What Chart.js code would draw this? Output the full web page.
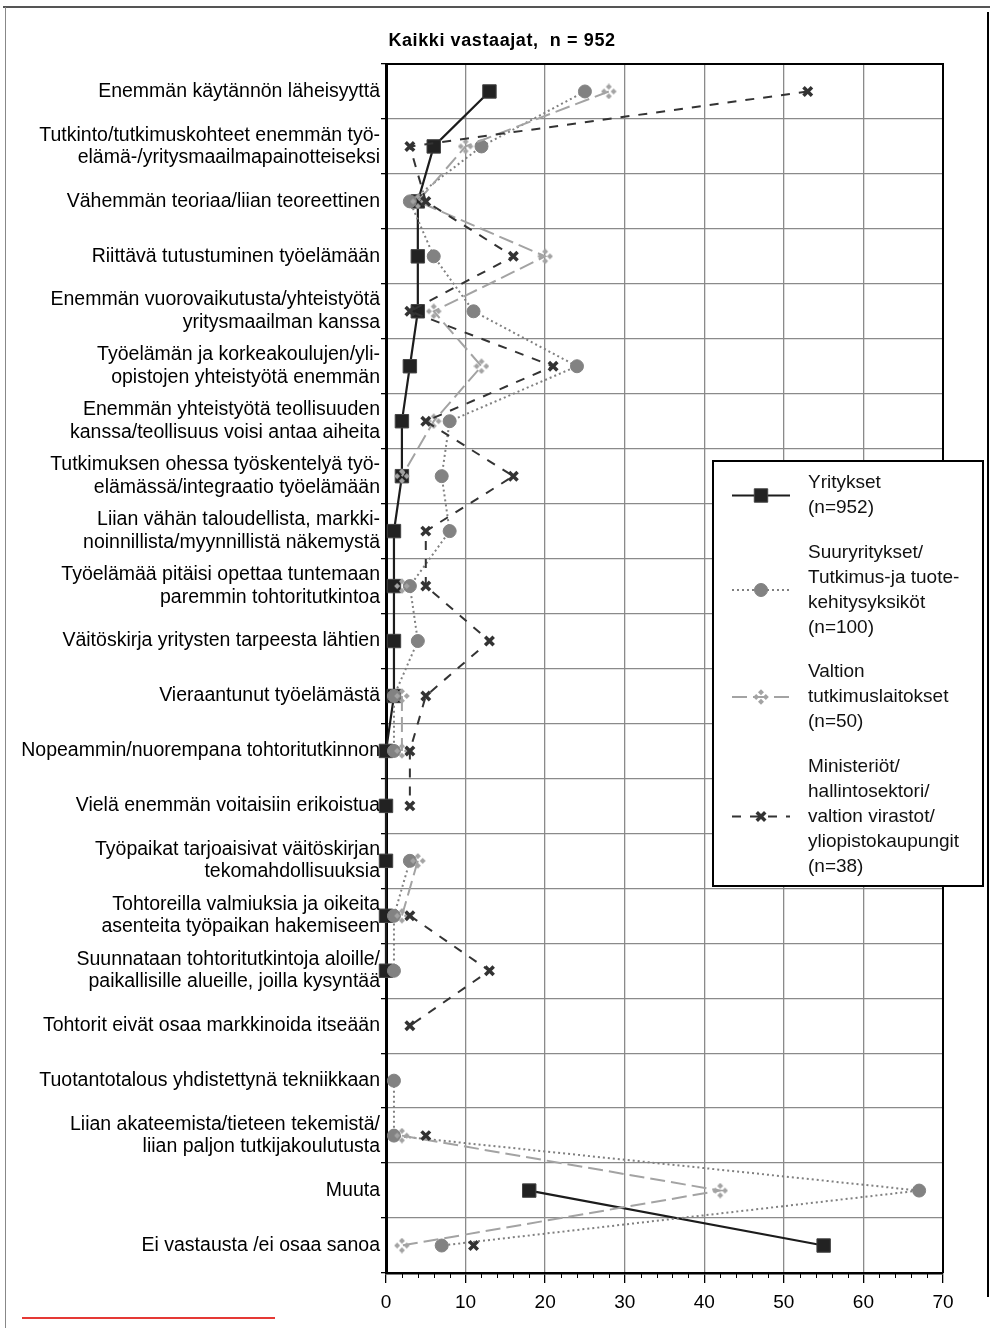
<!DOCTYPE html>
<html>
<head>
<meta charset="utf-8">
<script src="https://cdn.jsdelivr.net/npm/chart.js@4.4.0/dist/chart.umd.min.js"></script>
<style>
  html, body { margin: 0; padding: 0; background: #fff; }
  #wrap { position: relative; width: 993px; height: 1328px; overflow: hidden; }
  #chart { position: absolute; left: 0; top: 0; }
  .ln { position: absolute; }
</style>
</head>
<body>
<div id="wrap">
  <canvas id="chart" width="993" height="1328"></canvas>
  <!-- sivun kehykset -->
  <div class="ln" style="left:3px;top:6px;width:987px;height:2px;background:#555;"></div>
  <div class="ln" style="left:5px;top:7px;width:1px;height:1321px;background:#888;"></div>
  <div class="ln" style="left:987px;top:12px;width:2px;height:1285px;background:#000;"></div>
  <div class="ln" style="left:22px;top:1317px;width:253px;height:2px;background:#e53935;"></div>
</div>
<script>
/* data */
const chartTitle = "Kaikki vastaajat,  n = 952";

const categories = [
  "Enemmän käytännön läheisyyttä",
  ["Tutkinto/tutkimuskohteet enemmän työ-", "elämä-/yritysmaailmapainotteiseksi"],
  "Vähemmän teoriaa/liian teoreettinen",
  "Riittävä tutustuminen työelämään",
  ["Enemmän vuorovaikutusta/yhteistyötä", "yritysmaailman kanssa"],
  ["Työelämän ja korkeakoulujen/yli-", "opistojen yhteistyötä enemmän"],
  ["Enemmän yhteistyötä teollisuuden", "kanssa/teollisuus voisi antaa aiheita"],
  ["Tutkimuksen ohessa työskentelyä työ-", "elämässä/integraatio työelämään"],
  ["Liian vähän taloudellista, markki-", "noinnillista/myynnillistä näkemystä"],
  ["Työelämää pitäisi opettaa tuntemaan", "paremmin tohtoritutkintoa"],
  "Väitöskirja yritysten tarpeesta lähtien",
  "Vieraantunut työelämästä",
  "Nopeammin/nuorempana tohtoritutkinnon",
  "Vielä enemmän voitaisiin erikoistua",
  ["Työpaikat tarjoaisivat väitöskirjan", "tekomahdollisuuksia"],
  ["Tohtoreilla valmiuksia ja oikeita", "asenteita työpaikan hakemiseen"],
  ["Suunnataan tohtoritutkintoja aloille/", "paikallisille alueille, joilla kysyntää"],
  "Tohtorit eivät osaa markkinoida itseään",
  "Tuotantotalous yhdistettynä tekniikkaan",
  ["Liian akateemista/tieteen tekemistä/", "liian paljon tutkijakoulutusta"],
  "Muuta",
  "Ei vastausta /ei osaa sanoa"
];

const yritykset     = [13, 6, 4, 4, 4, 3, 2, 2, 1, 1, 1, 1, 0, 0, 0, 0, 0, null, null, null, 18, 55];
const suuryritykset = [25, 12, 3, 6, 11, 24, 8, 7, 8, 3, 4, 1, 1, null, 3, 1, 1, null, 1, 1, 67, 7];
const valtion       = [28, 10, 4, 20, 6, 12, 6, 2, null, 2, null, 2, 2, null, 4, 2, null, null, null, 2, 42, 2];
const ministeriot   = [53, 3, 5, 16, 3, 21, 5, 16, 5, 5, 13, 5, 3, 3, null, 3, 13, 3, null, 5, null, 11];

const seriesNames = [
  ["Yritykset", "(n=952)"],
  ["Suuryritykset/", "Tutkimus-ja tuote-", "kehitysyksiköt", "(n=100)"],
  ["Valtion", "tutkimuslaitokset", "(n=50)"],
  ["Ministeriöt/", "hallintosektori/", "valtion virastot/", "yliopistokaupungit", "(n=38)"]
];

const xMin = 0, xMax = 70, xStep = 10, xMinorStep = 2;

const FONT = "'Liberation Sans', Arial, sans-serif";

// valtion merkki: neljä pientä vinoneliötä
function clusterMarker(color) {
  const c = document.createElement('canvas');
  c.width = 16; c.height = 16;
  const g = c.getContext('2d');
  g.fillStyle = color;
  const d = (cx, cy, r) => {
    g.beginPath();
    g.moveTo(cx, cy - r); g.lineTo(cx + r, cy); g.lineTo(cx, cy + r); g.lineTo(cx - r, cy);
    g.closePath(); g.fill();
  };
  d(8, 3.2, 3); d(8, 12.8, 3); d(3.2, 8, 3); d(12.8, 8, 3);
  return c;
}

// otsikko, kehys, pienet jakoviivat, selite
const decorPlugin = {
  id: 'decor',
  beforeDatasetsDraw(chart) {
    const ctx = chart.ctx, a = chart.chartArea, xs = chart.scales.x;
    ctx.save();
    ctx.strokeStyle = '#000';
    ctx.lineWidth = 2;
    ctx.beginPath();
    ctx.moveTo(a.left, a.top); ctx.lineTo(a.right, a.top); ctx.lineTo(a.right, a.bottom);
    ctx.stroke();
    ctx.lineWidth = 1;
    for (let v = xMin; v <= xMax; v += xMinorStep) {
      if (v % xStep === 0) continue;
      const px = Math.round(xs.getPixelForValue(v)) + 0.5;
      ctx.beginPath(); ctx.moveTo(px, a.bottom); ctx.lineTo(px, a.bottom + 5); ctx.stroke();
    }
    ctx.restore();
  },
  afterDraw(chart) {
    const ctx = chart.ctx;
    ctx.save();
    // otsikko
    ctx.fillStyle = '#000';
    ctx.font = "bold 18px " + FONT;
    ctx.letterSpacing = "0.6px";
    ctx.textAlign = 'center';
    ctx.textBaseline = 'middle';
    ctx.fillText(chartTitle, 502, 41);
    ctx.letterSpacing = "0px";

    // selite
    const bx = 713, by = 461, bw = 270, bh = 425;
    ctx.fillStyle = '#fff';
    ctx.fillRect(bx, by, bw, bh);
    ctx.strokeStyle = '#000';
    ctx.lineWidth = 2;
    ctx.strokeRect(bx, by, bw, bh);

    ctx.font = "19px " + FONT;
    ctx.textAlign = 'left';
    let ty = 483;
    const lh = 25;
    chart.data.datasets.forEach((ds, i) => {
      const lines = seriesNames[i];
      const my = ty + (lines.length - 1) * lh / 2;
      ctx.save();
      ctx.strokeStyle = ds.borderColor;
      ctx.lineWidth = ds.borderWidth;
      ctx.setLineDash(ds.borderDash || []);
      ctx.beginPath(); ctx.moveTo(732, my); ctx.lineTo(790, my); ctx.stroke();
      ctx.setLineDash([]);
      ctx.fillStyle = ds.pointBackgroundColor;
      ctx.strokeStyle = ds.pointBorderColor;
      ctx.lineWidth = ds.pointBorderWidth;
      Chart.helpers.drawPoint(ctx, {
        pointStyle: ds.pointStyle, radius: ds.pointRadius, rotation: 0, borderWidth: ds.pointBorderWidth
      }, 761, my);
      ctx.restore();
      ctx.fillStyle = '#111';
      lines.forEach((t, k) => ctx.fillText(t, 808, ty + k * lh));
      ty += (lines.length - 1) * lh + 44.5;
    });
    ctx.restore();
  }
};

new Chart(document.getElementById('chart'), {
  type: 'line',
  data: {
    labels: categories,
    datasets: [{
      label: 'Yritykset',
      data: yritykset,
      borderColor: '#1c1c1c',
      borderWidth: 2.2,
      pointStyle: 'rect',
      pointRadius: 9.5,
      pointBackgroundColor: '#222',
      pointBorderColor: '#444',
      pointBorderWidth: 1,
      order: 4
    }, {
      label: 'Suuryritykset',
      data: suuryritykset,
      borderColor: '#808080',
      borderWidth: 2,
      borderDash: [2, 3],
      pointStyle: 'circle',
      pointRadius: 6.5,
      pointBackgroundColor: '#828282',
      pointBorderColor: '#828282',
      pointBorderWidth: 1,
      order: 3
    }, {
      label: 'Valtion tutkimuslaitokset',
      data: valtion,
      borderColor: '#a3a3a3',
      borderWidth: 2,
      borderDash: [15, 6],
      pointStyle: clusterMarker('#a3a3a3'),
      pointRadius: 8,
      pointBackgroundColor: '#a3a3a3',
      pointBorderColor: '#a3a3a3',
      pointBorderWidth: 1,
      order: 2
    }, {
      label: 'Ministeriöt',
      data: ministeriot,
      borderColor: '#333',
      borderWidth: 2,
      borderDash: [9, 9],
      pointStyle: 'crossRot',
      pointRadius: 6,
      pointBackgroundColor: '#333',
      pointBorderColor: '#333',
      pointBorderWidth: 3.5,
      order: 1
    }].map(d => Object.assign({ fill: false, tension: 0, spanGaps: false, clip: false }, d))
  },
  options: {
    indexAxis: 'y',
    responsive: false,
    animation: false,
    devicePixelRatio: 1,
    layout: { padding: { left: 6, top: 64, right: 50, bottom: 0 } },
    plugins: {
      legend: { display: false },
      tooltip: { enabled: false },
      title: { display: false }
    },
    scales: {
      x: {
        type: 'linear',
        position: 'bottom',
        min: xMin,
        max: xMax,
        ticks: {
          stepSize: xStep,
          color: '#000',
          padding: 8,
          font: { family: FONT, size: 19 }
        },
        grid: { color: '#8a8a8a', lineWidth: 1.3, tickColor: '#000', tickLength: 10 },
        border: { color: '#000', width: 2.5 },
        afterFit: function(s) { s.height = 55; }
      },
      y: {
        type: 'category',
        offset: true,
        ticks: {
          autoSkip: false,
          color: '#000',
          padding: 1,
          font: { family: FONT, size: 19.5, lineHeight: 1.15 }
        },
        grid: { offset: true, color: '#8a8a8a', lineWidth: 1.3, tickColor: '#000', tickLength: 5 },
        border: { color: '#000', width: 3 },
        afterFit: function(s) { s.width = 380; }
      }
    }
  },
  plugins: [decorPlugin]
});
</script>
</body>
</html>
